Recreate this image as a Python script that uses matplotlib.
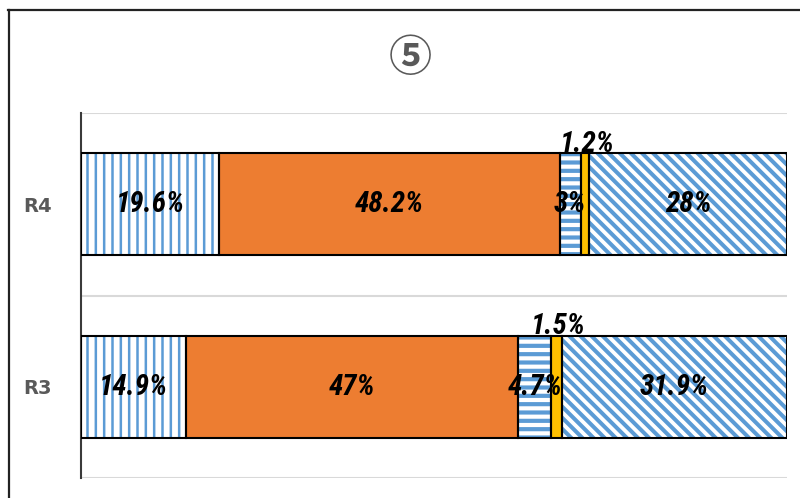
import matplotlib
matplotlib.use("Agg")
import matplotlib.pyplot as plt
from matplotlib.lines import Line2D
import numpy as np

categories = ["R3", "R4"]
seg1 = [14.9, 19.6]
seg2 = [47.0, 48.2]
seg3 = [4.7, 3.0]
seg4 = [1.5, 1.2]
seg5 = [31.9, 28.0]
title = "⑤"

series = [seg1, seg2, seg3, seg4, seg5]
styles = [
    dict(face="white", hatch="||", hcolor="#5B9BD5", hlw=1.8),
    dict(face="#ED7D31", hatch=None, hcolor=None, hlw=1.0),
    dict(face="white", hatch="--", hcolor="#5B9BD5", hlw=3.0),
    dict(face="#FFC000", hatch=None, hcolor=None, hlw=1.0),
    dict(face="white", hatch="\\\\\\", hcolor="#5B9BD5", hlw=2.9),
]
above = [False, False, False, True, False]

LABEL_FAMILY = ["Liberation Sans Narrow", "DejaVu Sans Condensed", "Roboto Condensed", "DejaVu Sans"]

fig = plt.figure(figsize=(8, 4.98), dpi=100)
ax = fig.add_axes([81/800, 1-478/498, (787-81)/800, (478-113)/498])

y = np.arange(len(categories))
bh = 0.56
left = np.zeros(len(categories))
for vals, st, ab in zip(series, styles, above):
    vals = np.array(vals)
    if st["hatch"]:
        with plt.rc_context({"hatch.linewidth": st["hlw"], "hatch.color": st["hcolor"]}):
            bars = ax.barh(y, vals, left=left, height=bh, color=st["face"],
                           edgecolor=st["hcolor"], hatch=st["hatch"], linewidth=0, zorder=2)
            for b in bars:
                if hasattr(b, "set_hatch_linewidth"):
                    b.set_hatch_linewidth(st["hlw"])
    else:
        ax.barh(y, vals, left=left, height=bh, color=st["face"], linewidth=0, zorder=2)
    ax.barh(y, vals, left=left, height=bh, fill=False, edgecolor="black", linewidth=1.5, zorder=3)
    for yi, v, l in zip(y, vals, left):
        lab = f"{v:g}%"
        kw = dict(fontsize=21, fontweight="bold", fontstyle="italic", fontstretch="condensed",
                  family=LABEL_FAMILY, color="black", zorder=5)
        if ab:
            ax.text(l + v/2 + 0.3, yi + bh/2 - 0.025, lab, ha="center", va="bottom", **kw)
        else:
            ax.text(l + v/2, yi, lab, ha="center", va="center", **kw)
    left = left + vals

ax.set_xlim(0, 100)
ax.set_ylim(-0.5, 1.5)
ax.set_yticks(y)
ax.set_yticklabels(categories, fontsize=14, fontweight="bold", color="#595959")
ax.tick_params(axis="y", length=0, pad=21)
ax.set_xticks([])
ax.set_yticks([-0.5, 0.5, 1.5], minor=True)
ax.tick_params(axis="y", which="minor", length=0)
ax.grid(axis="y", which="minor", color="#D9D9D9", linewidth=1.5, zorder=0)
for s in ["top", "right", "bottom"]:
    ax.spines[s].set_visible(False)
ax.spines["left"].set_color("#3a3a3a")
ax.spines["left"].set_linewidth(1.5)

fig.text(410/800, 1-58/498, title, ha="center", va="center", fontsize=31, fontweight="bold",
         color="#595959", family=["Noto Sans CJK JP", "DejaVu Sans"])

fig.add_artist(Line2D([8.5/800, 8.5/800], [0, 1-10/498], transform=fig.transFigure,
                      color="#222222", linewidth=1.6))
fig.add_artist(Line2D([8/800, 1], [1-10.5/498, 1-10.5/498], transform=fig.transFigure,
                      color="#222222", linewidth=1.6))

fig.savefig("out.png", dpi=100)
